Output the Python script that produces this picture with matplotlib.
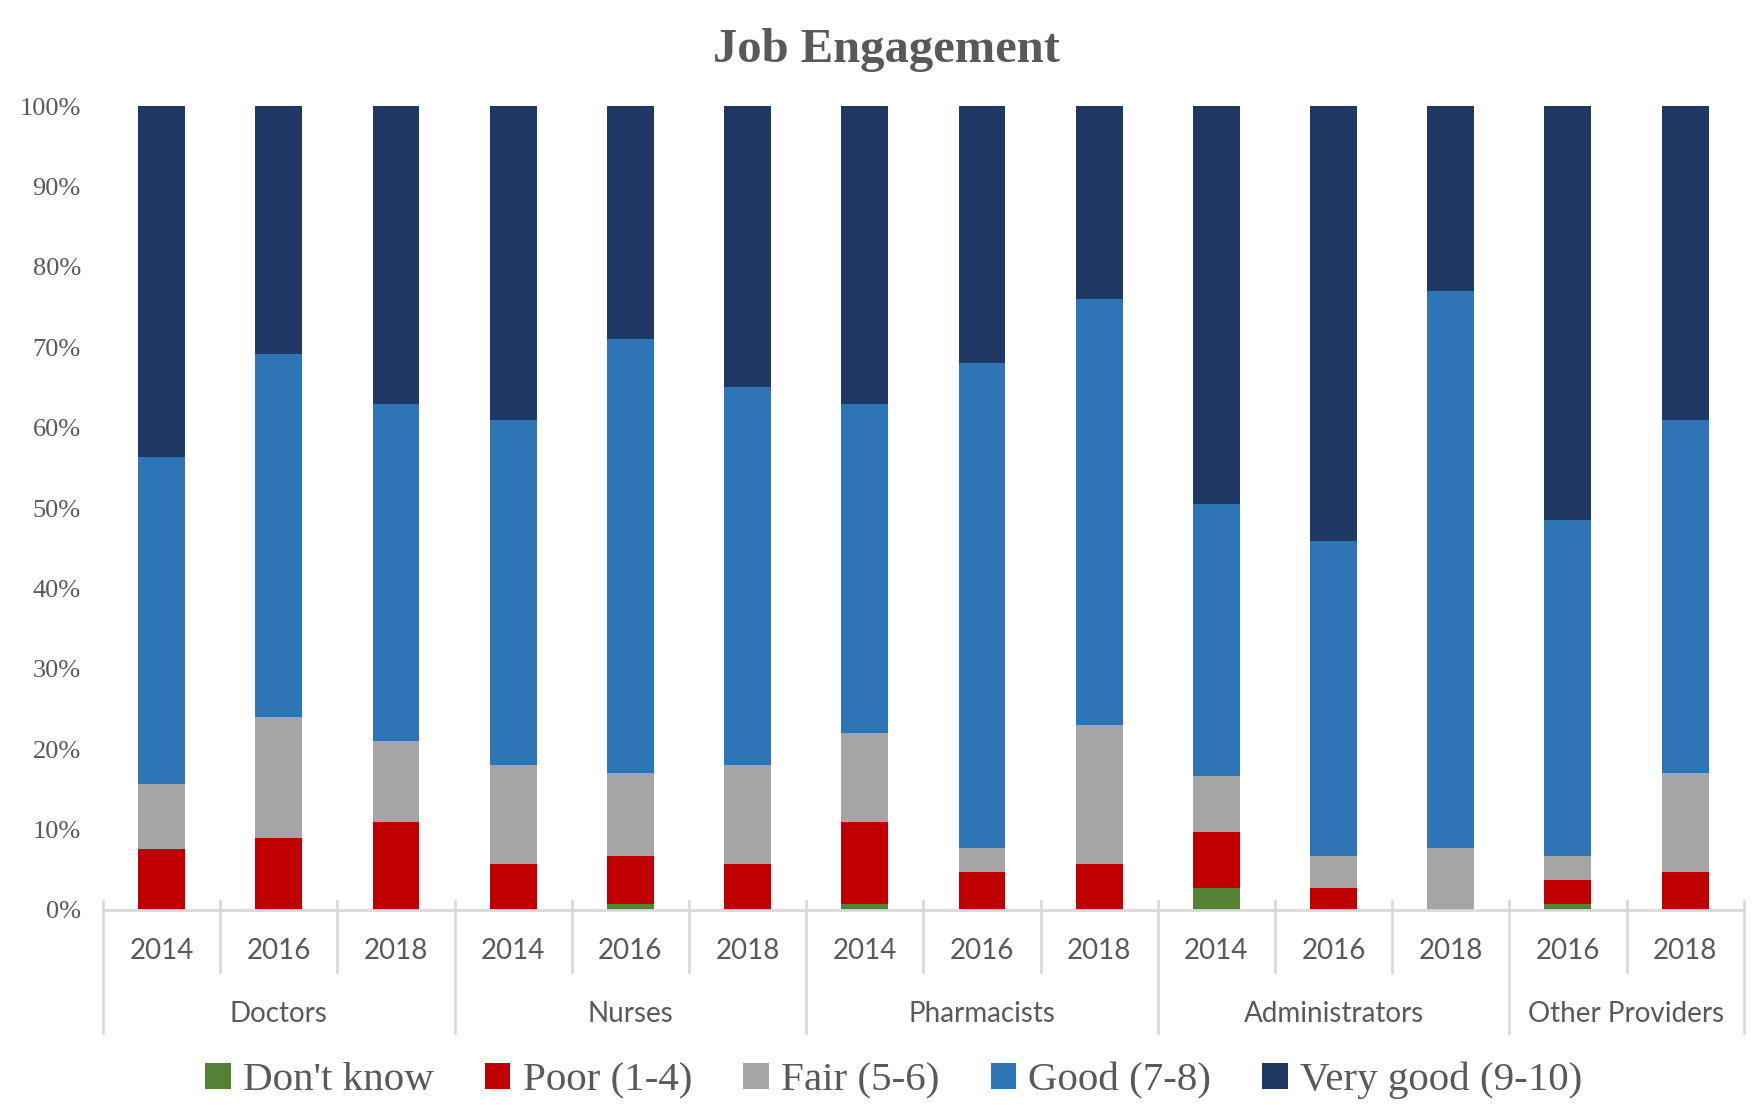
import matplotlib
matplotlib.use("Agg")
import matplotlib.pyplot as plt
from matplotlib.patches import Patch
import numpy as np

# ------------------- DADOS -------------------
grupos = ["Doctors", "Nurses", "Pharmacists", "Administrators", "Other Providers"]
anos_por_grupo = [["2014", "2016", "2018"],
                  ["2014", "2016", "2018"],
                  ["2014", "2016", "2018"],
                  ["2014", "2016", "2018"],
                  ["2016", "2018"]]

categorias = ["Don't know", "Poor (1-4)", "Fair (5-6)", "Good (7-8)", "Very good (9-10)"]
dont_know = [0.0, 0.0, 0.0, 0.0, 0.8, 0.0, 0.8, 0.0, 0.0, 2.7, 0.0, 0.0, 0.8, 0.0]
poor      = [7.6, 9.0, 11.0, 5.7, 5.9, 5.7, 10.2, 4.7, 5.7, 7.0, 2.7, 0.0, 2.9, 4.7]
fair      = [8.1, 15.0, 10.0, 12.3, 10.3, 12.3, 11.0, 3.0, 17.3, 7.0, 4.0, 7.7, 3.0, 12.3]
good      = [40.7, 45.1, 42.0, 43.0, 54.0, 47.0, 41.0, 60.4, 53.0, 33.8, 39.2, 69.3, 41.8, 44.0]
very_good = [43.6, 30.9, 37.0, 39.0, 29.0, 35.0, 37.0, 31.9, 24.0, 49.5, 54.1, 23.0, 51.5, 39.0]
cores = ["#548235", "#C00000", "#A5A5A5", "#2E75B6", "#203864"]
# ---------------------------------------------

series = [dont_know, poor, fair, good, very_good]
anos = [a for lista in anos_por_grupo for a in lista]
x = np.arange(len(anos))

cinza_texto = "#595959"
cinza_linha = "#D9D9D9"

fig = plt.figure(figsize=(17.56, 11.05), dpi=100)
ax = fig.add_axes([0.0587, 0.1765, 0.9343, 0.7275])

base = np.zeros(len(anos))
for valores, cor in zip(series, cores):
    v = np.array(valores) / 100.0
    ax.bar(x, v, bottom=base, width=0.40, color=cor, edgecolor="none")
    base += v

ax.set_xlim(-0.5, len(anos) - 0.5)
ax.set_ylim(0, 1)
ax.set_yticks(np.arange(0, 1.01, 0.1))
ax.set_yticklabels([f"{int(round(t * 100))}%" for t in np.arange(0, 1.01, 0.1)],
                   family="Liberation Serif", fontsize=19, color=cinza_texto)
ax.tick_params(axis="y", length=0, pad=16)
ax.tick_params(axis="x", length=0, labelbottom=False)
for lado in ["top", "right", "left"]:
    ax.spines[lado].set_visible(False)
ax.spines["bottom"].set_color(cinza_linha)
ax.spines["bottom"].set_linewidth(2)

# rótulos de ano e de grupo
trans = ax.get_xaxis_transform()
for xi, ano in zip(x, anos):
    ax.text(xi, -0.051, ano, transform=trans, ha="center", va="center",
            family="Lato", fontsize=20, color=cinza_texto)

limites = [0]
for lista in anos_por_grupo:
    limites.append(limites[-1] + len(lista))
for i, nome in enumerate(grupos):
    centro = (limites[i] + limites[i + 1] - 1) / 2
    ax.text(centro, -0.129, nome, transform=trans, ha="center", va="center",
            family="Lato", fontsize=20, color=cinza_texto)

# divisórias
for k in range(len(anos) + 1):
    fundo = -0.153 if k in limites else -0.077
    ax.plot([k - 0.5, k - 0.5], [0.011, fundo], transform=trans, color=cinza_linha,
            lw=2, clip_on=False)

fig.text(0.505, 0.955, "Job Engagement", ha="center", va="center",
         family="Liberation Serif", fontweight="bold", fontsize=35, color=cinza_texto)

handles = [Patch(facecolor=c, edgecolor="none") for c in cores]
leg = fig.legend(handles, categorias, loc="center", bbox_to_anchor=(0.509, 0.022),
                 ncol=5, frameon=False, handlelength=0.62, handleheight=0.62,
                 handletextpad=0.3, columnspacing=1.25,
                 prop={"family": "Liberation Serif", "size": 29.5})
for t in leg.get_texts():
    t.set_color(cinza_texto)

fig.savefig("out.png", dpi=100)
